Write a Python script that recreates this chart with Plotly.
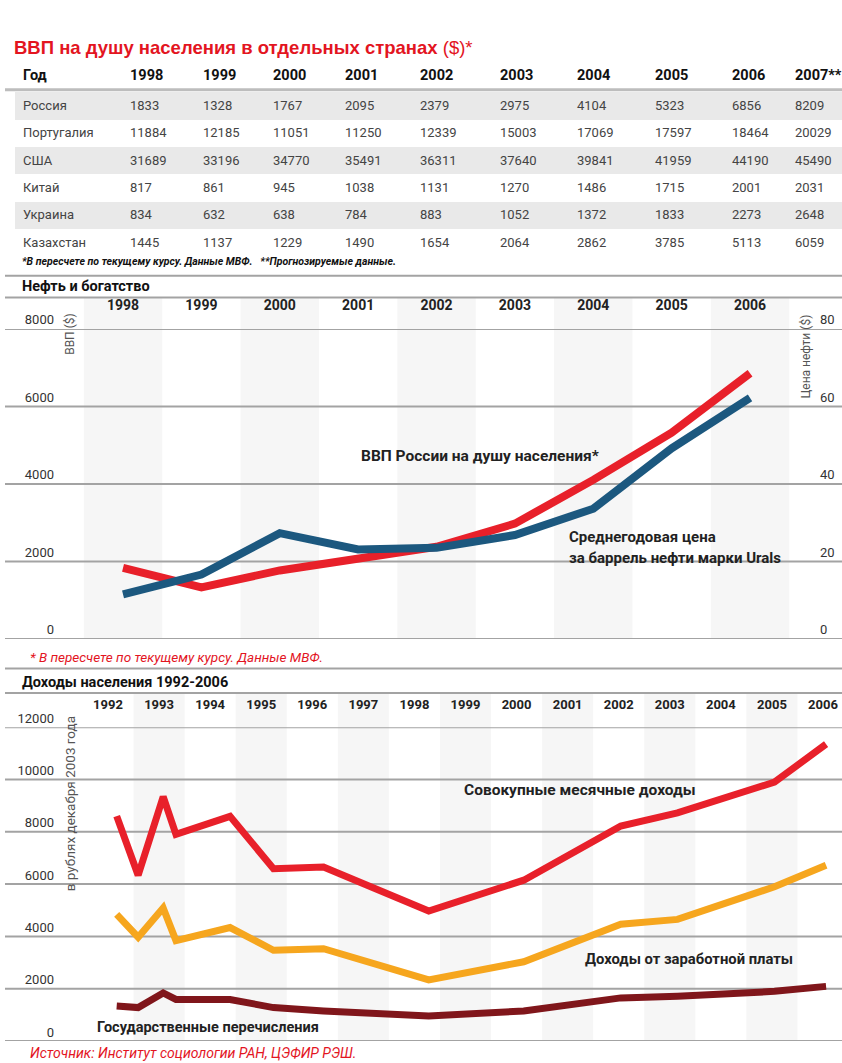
import plotly.graph_objects as go

W, H = 842, 1063
FONT = "Roboto, Liberation Sans, Arial, sans-serif"

def px(x):
    return x / W

def py(y):
    return 1 - y / H

# ---------------- data ----------------
table_years = ["1998", "1999", "2000", "2001", "2002", "2003", "2004", "2005", "2006", "2007**"]
countries = ["Россия", "Португалия", "США", "Китай", "Украина", "Казахстан"]
gdp_russia = [1833, 1328, 1767, 2095, 2379, 2975, 4104, 5323, 6856, 8209]
gdp_portugal = [11884, 12185, 11051, 11250, 12339, 15003, 17069, 17597, 18464, 20029]
gdp_usa = [31689, 33196, 34770, 35491, 36311, 37640, 39841, 41959, 44190, 45490]
gdp_china = [817, 861, 945, 1038, 1131, 1270, 1486, 1715, 2001, 2031]
gdp_ukraine = [834, 632, 638, 784, 883, 1052, 1372, 1833, 2273, 2648]
gdp_kazakhstan = [1445, 1137, 1229, 1490, 1654, 2064, 2862, 3785, 5113, 6059]

oil_years = [1998, 1999, 2000, 2001, 2002, 2003, 2004, 2005, 2006]
gdp_russia_line = gdp_russia[:9]
urals_price = [11.5, 16.6, 27.3, 23.1, 23.5, 26.8, 33.6, 49.2, 62.2]
oil_gdp_ticks = [0, 2000, 4000, 6000, 8000]
oil_price_ticks = [0, 20, 40, 60, 80]

inc_years_axis = list(range(1992, 2007))
inc_x = [1992.17, 1992.59, 1993.08, 1993.33, 1994.39, 1995.24, 1996.22,
         1998.28, 2000.14, 2002.04, 2003.15, 2005.05, 2006.06]
inc_total = [8600, 6340, 9340, 7900, 8590, 6590, 6650, 4970, 6150, 8220, 8720, 9900, 11350]
inc_wages = [4840, 3970, 5090, 3840, 4340, 3470, 3530, 2340, 3030, 4465, 4650, 5900, 6720]
inc_transfers = [1340, 1280, 1840, 1590, 1590, 1280, 1150, 960, 1150, 1650, 1715, 1900, 2090]
inc_ticks = [0, 2000, 4000, 6000, 8000, 10000, 12000]

RED = "#e8202a"
BLUE = "#1c587f"
ORANGE = "#f6a61e"
DARKRED = "#80161b"
GRID = "#a3a3a3"
TXT = "#222222"

fig = go.Figure()

# ---------------- table ----------------
rows = [gdp_russia, gdp_portugal, gdp_usa, gdp_china, gdp_ukraine, gdp_kazakhstan]
cols = [countries] + [[r[i] for r in rows] for i in range(len(table_years))]
row_fill = ["#e9e9e9" if i % 2 == 0 else "#ffffff" for i in range(len(countries))]
fig.add_trace(go.Table(
    domain=dict(x=[px(15), 1.0], y=[py(239), py(43)]),
    columnwidth=[107, 73, 70, 72, 75, 80, 77, 78, 77, 63, 55],
    header=dict(
        values=["<b>Год</b>"] + ["<b>%s</b>" % y for y in table_years],
        fill_color="white", line=dict(width=0), align="left", height=31,
        font=dict(family=FONT, size=14.5, color="#111"),
    ),
    cells=dict(
        values=cols, fill_color=[row_fill] * len(cols), line=dict(width=0),
        align="left", height=27.3,
        font=dict(family=FONT, size=13, color="#444"),
    ),
))

# ---------------- oil & GDP chart ----------------
fig.add_trace(go.Scatter(x=oil_years, y=urals_price, mode="lines", yaxis="y2", xaxis="x",
                         line=dict(color=BLUE, width=8), hoverinfo="skip"))
fig.add_trace(go.Scatter(x=oil_years, y=gdp_russia_line, mode="lines", xaxis="x", yaxis="y",
                         line=dict(color=RED, width=8), hoverinfo="skip"))

# ---------------- income chart ----------------
fig.add_trace(go.Scatter(x=inc_x, y=inc_transfers, mode="lines", xaxis="x2", yaxis="y3",
                         line=dict(color=DARKRED, width=7), hoverinfo="skip"))
fig.add_trace(go.Scatter(x=inc_x, y=inc_wages, mode="lines", xaxis="x2", yaxis="y3",
                         line=dict(color=ORANGE, width=7), hoverinfo="skip"))
fig.add_trace(go.Scatter(x=inc_x, y=inc_total, mode="lines", xaxis="x2", yaxis="y3",
                         line=dict(color=RED, width=7), hoverinfo="skip"))

tickfont = dict(family=FONT, size=13, color="#333")
yearfont = dict(family=FONT, size=14, color=TXT)
HIDDEN = "rgba(0,0,0,0)"

fig.update_layout(
    width=W, height=H, margin=dict(l=0, r=0, t=0, b=0),
    paper_bgcolor="white", plot_bgcolor="rgba(0,0,0,0)", showlegend=False,
    xaxis=dict(domain=[px(55), px(815)], range=[1997.132, 2006.829], side="top", anchor="y",
               tickvals=oil_years, ticktext=["<b>%d</b>" % y for y in oil_years],
               tickfont=yearfont, showgrid=False, zeroline=False, showline=False,
               ticks="outside", ticklen=12, tickcolor=HIDDEN),
    yaxis=dict(domain=[py(632), py(317)], range=[0, 8000], anchor="x", side="left",
               tickvals=oil_gdp_ticks, ticktext=[str(v) for v in oil_gdp_ticks],
               tickfont=tickfont, showgrid=False, zeroline=False, showline=False,
               ticks="", ticklabelposition="outside top", ticklabelstandoff=0),
    yaxis2=dict(overlaying="y", range=[0, 80], anchor="x", side="right",
                tickvals=oil_price_ticks, ticktext=[str(v) for v in oil_price_ticks],
                tickfont=tickfont, showgrid=False, zeroline=False, showline=False,
                ticks="", ticklabelposition="outside top", ticklabelstandoff=4),
    xaxis2=dict(domain=[px(55), 1.0], range=[1990.962, 2006.372], side="top", anchor="y3",
                tickvals=inc_years_axis, ticktext=["<b>%d</b>" % y for y in inc_years_axis],
                tickfont=dict(family=FONT, size=13, color=TXT), showgrid=False,
                zeroline=False, showline=False,
                ticks="outside", ticklen=12, tickcolor=HIDDEN),
    yaxis3=dict(domain=[py(1040.7), py(721.7)], range=[0, 12000], anchor="x2", side="left",
                tickvals=inc_ticks, ticktext=[str(v) for v in inc_ticks],
                tickfont=tickfont, showgrid=False, zeroline=False, showline=False,
                ticks="", ticklabelposition="outside top", ticklabelstandoff=0),
)

shapes = []
# alternating column bands
for y in oil_years[::2]:
    shapes.append(dict(type="rect", xref="x", yref="paper", x0=y - 0.5, x1=y + 0.5,
                       y0=py(632), y1=py(285), fillcolor="#f6f6f6", line=dict(width=0),
                       layer="below"))
for y in inc_years_axis[1::2]:
    shapes.append(dict(type="rect", xref="x2", yref="paper", x0=y - 0.5, x1=y + 0.5,
                       y0=py(1040), y1=py(687), fillcolor="#f6f6f6", line=dict(width=0),
                       layer="below"))
# gridlines across the full width
for v in oil_gdp_ticks:
    shapes.append(dict(type="line", xref="paper", yref="y", x0=px(5), x1=1, y0=v, y1=v,
                       line=dict(color=GRID, width=2), layer="below"))
for v in inc_ticks:
    shapes.append(dict(type="line", xref="paper", yref="y3", x0=px(5), x1=1, y0=v, y1=v,
                       line=dict(color=GRID, width=2), layer="below"))
# section rules
for yy in [74, 263, 285, 662, 687]:
    shapes.append(dict(type="line", xref="paper", yref="paper", x0=px(5), x1=1,
                       y0=py(yy), y1=py(yy),
                       line=dict(color="#bdbdbd" if yy == 74 else GRID, width=3 if yy == 74 else 2),
                       layer="above" if yy == 74 else "below"))
fig.update_layout(shapes=shapes)

ann = []
def add(text, x, y, size=14, color=TXT, xanchor="left", angle=0, family=FONT):
    ann.append(dict(text=text, x=px(x), y=py(y), xref="paper", yref="paper",
                    xanchor=xanchor, yanchor="middle", showarrow=False, textangle=angle,
                    font=dict(family=family, size=size, color=color)))

add("<b>ВВП на душу населения в отдельных странах</b> ($)*", 12, 31, size=18.5, color="#e3151f",
    family="Liberation Sans, Arial, sans-serif")
add("<b><i>*В пересчете по текущему курсу. Данные МВФ.   **Прогнозируемые данные.</i></b>", 20, 248,
    size=10.5, color="#111")
add("<b>Нефть и богатство</b>", 20, 274, size=14.5, color="#111")
add("ВВП ($)", 70, 322, size=12, color="#555", xanchor="center", angle=-90)
add("Цена нефти ($)", 806, 345, size=12, color="#555", xanchor="center", angle=-90)
add("<b>ВВП России на душу населения*</b>", 480, 446, size=15.5, xanchor="center")
add("<b>Среднегодовая цена</b>", 567, 528, size=15)
add("<b>за баррель нефти марки Urals</b>", 567, 550, size=15)
add("<i>* В пересчете по текущему курсу. Данные МВФ.</i>", 28, 650, size=13.5, color="#e3151f")
add("<b>Доходы населения 1992-2006</b>", 20, 676, size=14.5, color="#111")
add("в рублях декабря 2003 года", 70, 800, size=13.5, color="#555", xanchor="center", angle=-90)
add("<b>Совокупные месячные доходы</b>", 580, 786, size=15.5, xanchor="center")
add("<b>Доходы от заработной платы</b>", 583, 957, size=14.8)
add("<b>Государственные перечисления</b>", 95, 1027, size=14.5)
add("<i>Источник: Институт социологии РАН, ЦЭФИР РЭШ.</i>", 28, 1053, size=14, color="#e3151f")
fig.update_layout(annotations=ann)

fig.write_html("out.html", config={"displayModeBar": False},
               post_script="document.body.style.margin='0';")
